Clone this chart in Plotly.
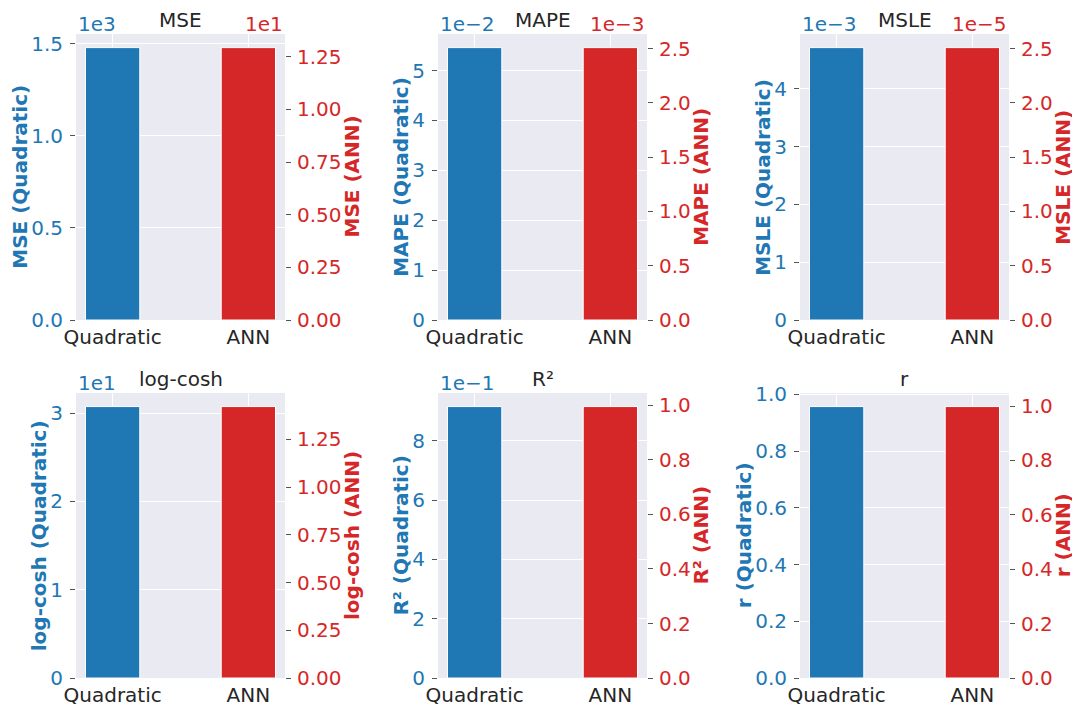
import plotly.graph_objects as go

# Model comparison: each panel has the Quadratic bar on the left axis and the ANN bar on a twin right axis
metrics = ["MSE", "MAPE", "MSLE", "log-cosh", "R²", "r"]
models = ["Quadratic", "ANN"]

quadratic_values = [1478.0, 0.0546, 0.00471, 30.74, 0.916, 0.957]
ann_values = [12.93, 0.00251, 2.51e-5, 1.422, 0.996, 0.998]

# scientific offset exponents (None = no offset label)
quadratic_exponents = [3, -2, -3, 1, -1, None]
ann_exponents = [1, -3, -5, None, None, None]

quadratic_tick_labels = [
    ["0.0", "0.5", "1.0", "1.5"],
    ["0", "1", "2", "3", "4", "5"],
    ["0", "1", "2", "3", "4"],
    ["0", "1", "2", "3"],
    ["0", "2", "4", "6", "8"],
    ["0.0", "0.2", "0.4", "0.6", "0.8", "1.0"],
]
ann_tick_labels = [
    ["0.00", "0.25", "0.50", "0.75", "1.00", "1.25"],
    ["0.0", "0.5", "1.0", "1.5", "2.0", "2.5"],
    ["0.0", "0.5", "1.0", "1.5", "2.0", "2.5"],
    ["0.00", "0.25", "0.50", "0.75", "1.00", "1.25"],
    ["0.0", "0.2", "0.4", "0.6", "0.8", "1.0"],
    ["0.0", "0.2", "0.4", "0.6", "0.8", "1.0"],
]

W, H = 1072, 704
BLUE = "#1f77b4"
RED = "#d62728"
DARK = "#262626"
BG = "#eaeaf2"
FONT = "DejaVu Sans"
FS = 20

# panel boxes in pixels (left, right) and (top, bottom)
col_px = [(76, 285), (438, 647), (800, 1009)]
row_px = [(34, 320), (393, 678)]


def px_x(v):
    return v / W


def px_y(v):
    return 1 - v / H


def text_width(s, size=FS):
    widths = {".": 0.318, "−": 0.838, "-": 0.361}
    return sum(widths.get(ch, 0.636) for ch in s) * size


def offset_label(exp):
    return "1e" + (str(exp) if exp >= 0 else "−" + str(-exp))


fig = go.Figure()
annotations = []
layout = {}

for i, name in enumerate(metrics):
    r, c = divmod(i, 3)
    x0, x1 = col_px[c]
    top, bot = row_px[r]
    xd = [px_x(x0), px_x(x1)]
    yd = [px_y(bot), px_y(top)]

    xid = "" if i == 0 else str(i + 1)
    yl = str(2 * i + 1) if i > 0 else ""
    yr = str(2 * i + 2)

    q, a = quadratic_values[i], ann_values[i]
    qe, ae = quadratic_exponents[i], ann_exponents[i]
    qscale = 10.0 ** (qe or 0)
    ascale = 10.0 ** (ae or 0)

    fig.add_trace(go.Bar(
        x=[0], y=[q], width=0.4, xaxis="x" + xid, yaxis="y" + yl,
        marker=dict(color=BLUE, line=dict(color="white", width=1)),
        showlegend=False, hoverinfo="skip",
    ))
    fig.add_trace(go.Bar(
        x=[1], y=[a], width=0.4, xaxis="x" + xid, yaxis="y" + yr,
        marker=dict(color=RED, line=dict(color="white", width=1)),
        showlegend=False, hoverinfo="skip",
    ))

    layout["xaxis" + xid] = dict(
        domain=xd, anchor="y" + yl, range=[-0.27, 1.27], automargin=False,
        tickvals=[0, 1], ticktext=models, ticks="", ticklabelstandoff=3,
        tickfont=dict(family=FONT, size=FS, color=DARK),
        showgrid=True, gridcolor="white", gridwidth=1.2,
        zeroline=False, showline=False, fixedrange=True,
    )
    ql = quadratic_tick_labels[i]
    layout["yaxis" + yl] = dict(
        domain=yd, anchor="x" + xid, range=[0, 1.05 * q], automargin=False,
        tickvals=[float(t) * qscale for t in ql], ticktext=ql,
        ticks="outside", ticklen=5, tickwidth=1, tickcolor="#555555",
        ticklabelstandoff=3,
        tickfont=dict(family=FONT, size=FS, color=BLUE),
        showgrid=True, gridcolor="white", gridwidth=1.2,
        zeroline=False, showline=False, fixedrange=True,
    )
    al = ann_tick_labels[i]
    layout["yaxis" + yr] = dict(
        overlaying="y" + yl, side="right", anchor="x" + xid,
        range=[0, 1.05 * a], automargin=False,
        tickvals=[float(t) * ascale for t in al], ticktext=al,
        ticks="outside", ticklen=5, tickwidth=1, tickcolor="#555555",
        ticklabelstandoff=2,
        tickfont=dict(family=FONT, size=FS, color=RED),
        showgrid=False, zeroline=False, showline=False, fixedrange=True,
    )

    # panel title
    annotations.append(dict(
        text=name, x=px_x((x0 + x1) / 2), y=px_y(top), xref="paper", yref="paper",
        xanchor="center", yanchor="bottom", showarrow=False,
        font=dict(family=FONT, size=FS, color=DARK),
    ))
    # scientific offset labels
    if qe is not None:
        annotations.append(dict(
            text=offset_label(qe), x=px_x(x0), y=px_y(top), xref="paper", yref="paper",
            xanchor="left", yanchor="bottom", yshift=-4, showarrow=False,
            font=dict(family=FONT, size=FS, color=BLUE),
        ))
    if ae is not None:
        annotations.append(dict(
            text=offset_label(ae), x=px_x(x1), y=px_y(top), xref="paper", yref="paper",
            xanchor="right", yanchor="bottom", yshift=-4, showarrow=False,
            font=dict(family=FONT, size=FS, color=RED),
        ))
    # axis titles
    lw = max(text_width(t) for t in ql)
    rw = max(text_width(t) for t in al)
    ymid = px_y((top + bot) / 2)
    annotations.append(dict(
        text="<b>%s (Quadratic)</b>" % name, x=px_x(x0 - 24.5 - lw), y=ymid,
        xref="paper", yref="paper", xanchor="center", yanchor="middle",
        textangle=-90, showarrow=False,
        font=dict(family=FONT, size=FS, color=BLUE),
    ))
    annotations.append(dict(
        text="<b>%s (ANN)</b>" % name, x=px_x(x1 + 22 + rw), y=ymid,
        xref="paper", yref="paper", xanchor="center", yanchor="middle",
        textangle=-90, showarrow=False,
        font=dict(family=FONT, size=FS, color=RED),
    ))

fig.update_layout(
    width=W, height=H, margin=dict(l=0, r=0, t=0, b=0, autoexpand=False),
    paper_bgcolor="white", plot_bgcolor=BG, barmode="overlay",
    font=dict(family=FONT, size=FS, color=DARK),
    annotations=annotations, **layout,
)

fig.write_html("out.html")
